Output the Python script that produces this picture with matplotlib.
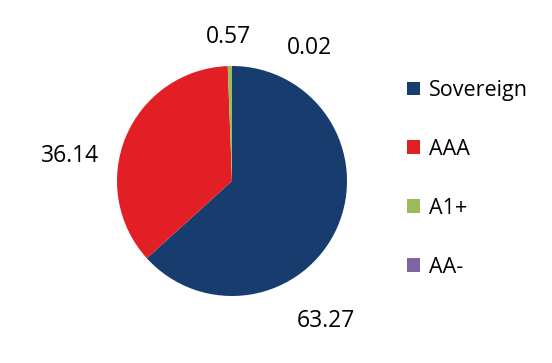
import matplotlib
matplotlib.use("Agg")
import matplotlib.pyplot as plt
from matplotlib.patches import Patch

categories = ["Sovereign", "AAA", "A1+", "AA-"]
values = [63.27, 36.14, 0.57, 0.02]
value_labels = ["63.27", "36.14", "0.57", "0.02"]
colors = ["#173d6e", "#e31f26", "#9bbb59", "#8064a2"]

plt.rcParams['font.family'] = ['Open Sans', 'DejaVu Sans']

W, H = 552, 363
fig = plt.figure(figsize=(W/100, H/100), dpi=100)
cx, cy, r = 232, 181, 115
ax = fig.add_axes([(cx - r)/W, (H - cy - r)/H, 2*r/W, 2*r/H])
ax.pie(values, colors=colors, startangle=90, counterclock=False,
       wedgeprops=dict(linewidth=0))
ax.set_aspect('equal')
ax.set_xlim(-1, 1); ax.set_ylim(-1, 1)
ax.axis('off')

# data label positions (pixels)
label_pos = {"63.27": (326, 321), "36.14": (70, 156), "0.57": (228, 37), "0.02": (309, 48)}
for lab in value_labels:
    x, y = label_pos[lab]
    fig.text(x/W, 1 - y/H, lab, ha='center', va='center', fontsize=16.5, color='black')

handles = [Patch(facecolor=c, edgecolor='none') for c in colors]
fig.legend(handles, categories, loc='upper left', bbox_to_anchor=(407/W, 1 - 80/H),
           frameon=False, fontsize=15.5, handlelength=0.6, handleheight=0.6,
           handletextpad=0.4, labelspacing=1.76, borderpad=0, borderaxespad=0)

fig.savefig("out.png", dpi=100)
